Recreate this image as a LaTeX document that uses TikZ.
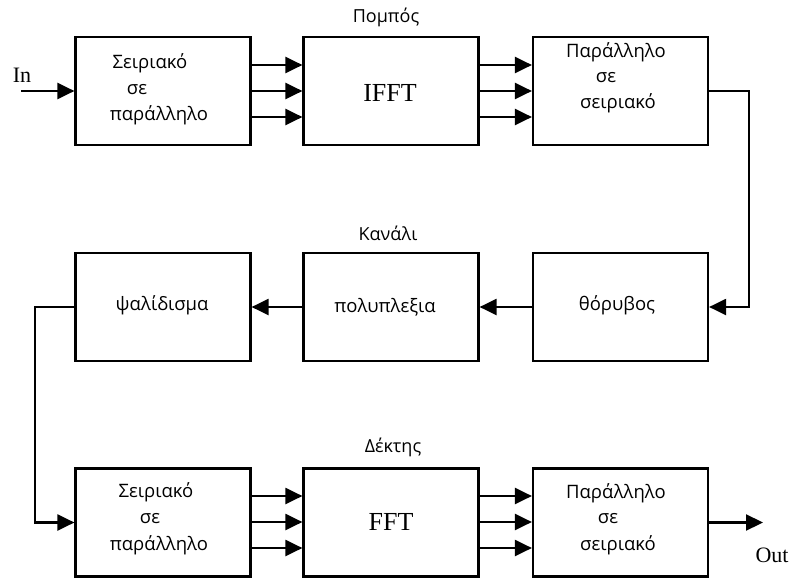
\documentclass[tikz,border=0pt]{standalone}
\usepackage{fontspec}
\setmainfont{Liberation Serif}
\newfontfamily\grfont{Open Sans}
\usetikzlibrary{arrows.meta}
\begin{document}
\begin{tikzpicture}[x=1pt,y=-1pt,
  box/.style={draw, line width=2.2pt, minimum width=175pt, minimum height=108pt, inner sep=0pt},
  arr/.style={line width=2.2pt, -{Triangle[length=17pt,width=16pt]}},
  wire/.style={line width=2.2pt},
  gtxt/.style={font=\grfont\fontsize{18.5}{22}\selectfont, inner sep=0pt},
  ttl/.style={font=\grfont\fontsize{18}{22}\selectfont, inner sep=0pt},
  rom/.style={font=\fontsize{26}{30}\selectfont, inner sep=0pt}]
\path[use as bounding box] (0,0) rectangle (795,578);

% boxes
\node[box] (t1) at (163,91) {};
\node[box] (t2) at (391,91) {};
\node[box] (t3) at (620.5,91) {};
\node[box] (m1) at (163,307) {};
\node[box] (m2) at (391,307) {};
\node[box] (m3) at (620.5,307) {};
\node[box] (b1) at (163,522.5) {};
\node[box] (b2) at (391,522.5) {};
\node[box] (b3) at (620.5,522.5) {};

% titles
\node[ttl] (tt) at (386,17) {Πομπός};
\node[ttl] (mt) at (388,233) {Κανάλι};
\node[ttl] (bt) at (393,447) {Δέκτης};

% texts top row
\node[gtxt] (t1a) at (150,63) {Σειριακό};
\node[gtxt] (t1b) at (137,90) {σε};
\node[gtxt] (t1c) at (159,115) {παράλληλο};
\node[rom] (t2a) at (390,93) {IFFT};
\node[gtxt] (t3a) at (616,52) {Παράλληλο};
\node[gtxt] (t3b) at (606,78) {σε};
\node[gtxt] (t3c) at (618,103) {σειριακό};

% middle row
\node[gtxt] (m1a) at (162,305) {ψαλίδισμα};
\node[gtxt] (m2a) at (385,307) {πολυπλεξια};
\node[gtxt] (m3a) at (617,305) {θόρυβος};

% bottom row
\node[gtxt] (b1a) at (156,492) {Σειριακό};
\node[gtxt] (b1b) at (150,519) {σε};
\node[gtxt] (b1c) at (159,545) {παράλληλο};
\node[rom] (b2a) at (391,522) {FFT};
\node[gtxt] (b3a) at (616,493) {Παράλληλο};
\node[gtxt] (b3b) at (608,519) {σε};
\node[gtxt] (b3c) at (618,545) {σειριακό};

% In / Out
\node[rom, font=\fontsize{22}{26}\selectfont] (in) at (22,75) {In};
\node[rom, font=\fontsize{22}{26}\selectfont] (out) at (772,555) {Out};

% coordinates
\coordinate (inS) at (21,91);
\coordinate (cR) at (749,91);
\coordinate (cL) at (35,307);
\coordinate (outE) at (763,522.5);

% connectors
\draw[arr] (inS) -- (t1.west);
\foreach \yy in {65,91,117} {
  \draw[arr] (t1.east |- 0,\yy) -- (t2.west |- 0,\yy);
  \draw[arr] (t2.east |- 0,\yy) -- (t3.west |- 0,\yy);
}
\draw[arr] (t3.east) -- (cR) |- (m3.east);
\draw[arr] (m3.west) -- (m2.east);
\draw[arr] (m2.west) -- (m1.east);
\draw[arr] (m1.west) -- (cL) |- (b1.west);
\foreach \yy in {496,522,548} {
  \draw[arr] (b1.east |- 0,\yy) -- (b2.west |- 0,\yy);
  \draw[arr] (b2.east |- 0,\yy) -- (b3.west |- 0,\yy);
}
\draw[arr] (b3.east) -- (outE);
\end{tikzpicture}
\end{document}
